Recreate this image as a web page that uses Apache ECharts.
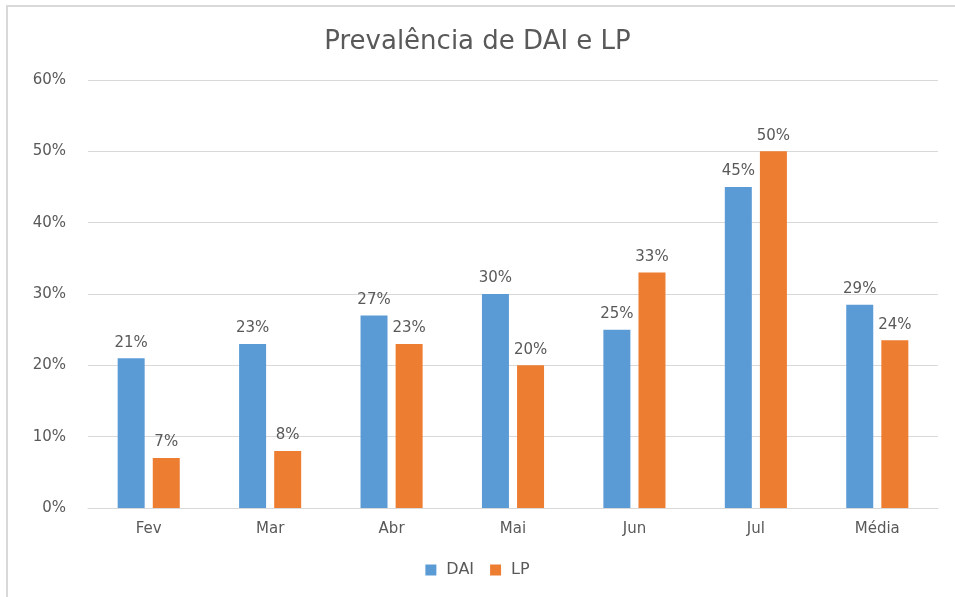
<!DOCTYPE html>
<html>
<head>
<meta charset="utf-8">
<script src="https://cdn.jsdelivr.net/npm/echarts@6/dist/echarts.min.js"></script>
<style>
  html, body { margin: 0; padding: 0; background: #fff; }
  #chart { width: 955px; height: 597px; }
</style>
</head>
<body>
<div id="chart"></div>
<script>
const categories = ['Fev', 'Mar', 'Abr', 'Mai', 'Jun', 'Jul', 'Média']
const daiValues = [21, 23, 27, 30, 25, 45, 28.5]
const lpValues = [7, 8, 23, 20, 33, 50, 23.5]
const yTicks = { min: 0, max: 60, interval: 10 }

const textColor = '#595959'
const font = '"DejaVu Sans", "Open Sans", sans-serif'

const labelOpt = {
  show: true,
  position: 'top',
  distance: 8,
  color: textColor,
  fontSize: 15,
  fontFamily: font,
  formatter: p => Math.round(p.value) + '%'
}

const chart = echarts.init(document.getElementById('chart'))
chart.setOption({
  animation: false,
  title: {
    text: 'Prevalência de DAI e LP',
    left: 'center',
    top: 24,
    textStyle: { color: textColor, fontSize: 26, fontWeight: 'normal', fontFamily: font }
  },
  legend: {
    bottom: 14,
    left: 'center',
    itemWidth: 11,
    itemHeight: 11,
    itemGap: 16,
    icon: 'rect',
    textStyle: { color: textColor, fontSize: 16, fontFamily: font, padding: [0, 0, 0, 5] }
  },
  grid: { left: 88, right: 17, top: 80, bottom: 89, containLabel: false },
  xAxis: {
    type: 'category',
    data: categories,
    axisLine: { lineStyle: { color: '#d9d9d9', width: 1 } },
    axisTick: { show: false },
    axisLabel: { color: textColor, fontSize: 15, fontFamily: font, margin: 14 }
  },
  yAxis: {
    type: 'value',
    min: yTicks.min,
    max: yTicks.max,
    interval: yTicks.interval,
    axisLine: { show: false },
    axisTick: { show: false },
    splitLine: { lineStyle: { color: '#d9d9d9', width: 1 } },
    axisLabel: { color: textColor, fontSize: 15, fontFamily: font, margin: 22, formatter: '{value}%' }
  },
  series: [
    {
      name: 'DAI',
      type: 'bar',
      data: daiValues,
      barWidth: 27,
      barGap: '30%',
      itemStyle: { color: '#5b9bd5' },
      label: labelOpt
    },
    {
      name: 'LP',
      type: 'bar',
      data: lpValues,
      barWidth: 27,
      itemStyle: { color: '#ed7d31' },
      label: labelOpt
    }
  ],
  graphic: [
    {
      type: 'rect',
      silent: true,
      shape: { x: 7, y: 6, width: 1000, height: 1000 },
      style: { fill: 'none', stroke: '#d9d9d9', lineWidth: 2 }
    }
  ]
})
</script>
</body>
</html>
